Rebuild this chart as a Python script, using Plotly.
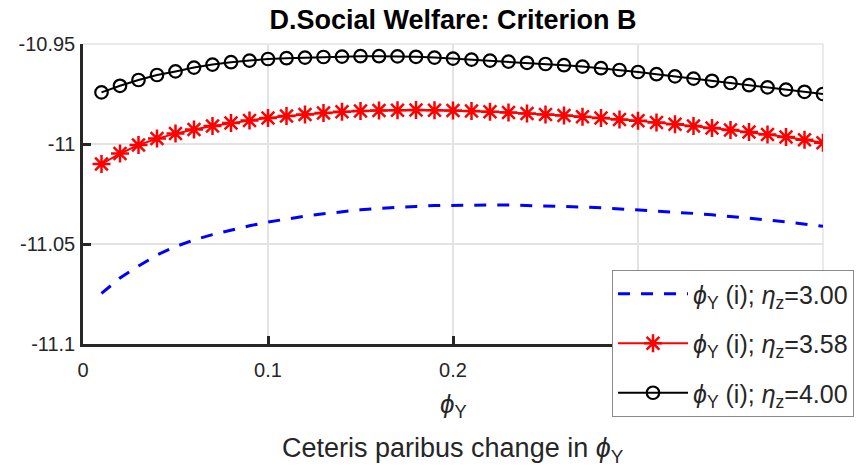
import plotly.graph_objects as go

# phi_Y grid
phi_y = [0.01, 0.02, 0.03, 0.04, 0.05, 0.06, 0.07, 0.08, 0.09, 0.10,
         0.11, 0.12, 0.13, 0.14, 0.15, 0.16, 0.17, 0.18, 0.19, 0.20,
         0.21, 0.22, 0.23, 0.24, 0.25, 0.26, 0.27, 0.28, 0.29, 0.30,
         0.31, 0.32, 0.33, 0.34, 0.35, 0.36, 0.37, 0.38, 0.39, 0.40]

# social welfare for eta_z = 3.00
welfare_eta_300 = [-11.0747, -11.0670, -11.0610, -11.0555, -11.0513, -11.0480, -11.0453, -11.0430, -11.0409, -11.0390,
                   -11.0374, -11.0361, -11.0349, -11.0338, -11.0329, -11.0322, -11.0316, -11.0312, -11.0308, -11.0306,
                   -11.0305, -11.0305, -11.0305, -11.0307, -11.0309, -11.0312, -11.0315, -11.0319, -11.0324, -11.0329,
                   -11.0334, -11.0340, -11.0347, -11.0354, -11.0362, -11.0371, -11.0380, -11.0390, -11.0400, -11.0411]

# social welfare for eta_z = 3.58
welfare_eta_358 = [-11.0100, -11.0048, -11.0005, -10.9973, -10.9948, -10.9927, -10.9910, -10.9895, -10.9882, -10.9870,
                   -10.9860, -10.9852, -10.9845, -10.9839, -10.9835, -10.9833, -10.9831, -10.9830, -10.9831, -10.9833,
                   -10.9835, -10.9839, -10.9843, -10.9847, -10.9852, -10.9858, -10.9864, -10.9870, -10.9877, -10.9884,
                   -10.9893, -10.9901, -10.9910, -10.9920, -10.9930, -10.9940, -10.9953, -10.9965, -10.9979, -10.9994]

# social welfare for eta_z = 4.00
welfare_eta_400 = [-10.9742, -10.9709, -10.9680, -10.9655, -10.9637, -10.9618, -10.9603, -10.9591, -10.9583, -10.9575,
                   -10.9571, -10.9568, -10.9565, -10.9563, -10.9561, -10.9561, -10.9562, -10.9564, -10.9568, -10.9573,
                   -10.9578, -10.9583, -10.9588, -10.9594, -10.9600, -10.9606, -10.9613, -10.9621, -10.9630, -10.9640,
                   -10.9651, -10.9662, -10.9673, -10.9684, -10.9695, -10.9706, -10.9717, -10.9728, -10.9739, -10.9750]

x_ticks = [0, 0.1, 0.2, 0.3, 0.4]
x_tick_labels = ["0", "0.1", "0.2", "0.3", "0.4"]
y_ticks = [-11.1, -11.05, -11.0, -10.95]
y_tick_labels = ["-11.1", "-11.05", "-11", "-10.95"]

FONT = "Liberation Sans, Arial, Helvetica, sans-serif"
AXIS_COLOR = "#262626"
GRID_COLOR = "#e3e3e3"

fig = go.Figure()

fig.add_trace(go.Scatter(
    x=phi_y, y=welfare_eta_300, mode="lines",
    name="<i>ϕ</i><sub>Y</sub> (i); <i>η</i><sub>z</sub>=3.00",
    legendgroup="a",
    line=dict(color="#0000ff", width=3, dash="12px,11px"),
))
fig.add_trace(go.Scatter(
    x=phi_y, y=welfare_eta_358, mode="lines+markers",
    name="<i>ϕ</i><sub>Y</sub> (i); <i>η</i><sub>z</sub>=3.58",
    legendgroup="b",
    line=dict(color="#ff0000", width=2),
    marker=dict(symbol="asterisk-open", size=15, color="#ff0000",
                line=dict(color="#ff0000", width=2.5)),
))
fig.add_trace(go.Scatter(
    x=phi_y, y=welfare_eta_400, mode="lines+markers",
    name="<i>ϕ</i><sub>Y</sub> (i); <i>η</i><sub>z</sub>=4.00",
    legendgroup="c",
    line=dict(color="#000000", width=2),
    marker=dict(symbol="circle-open", size=12.5, color="#000000",
                line=dict(color="#000000", width=2.2)),
))

fig.update_layout(
    width=862, height=468,
    margin=dict(l=83, r=39, t=44, b=124, autoexpand=False),
    paper_bgcolor="white", plot_bgcolor="white",
    font=dict(family=FONT, color=AXIS_COLOR),
    title=dict(text="<b>D.Social Welfare: Criterion B</b>",
               x=0.5, xref="paper", xanchor="center",
               y=1 - 20 / 468, yref="container", yanchor="middle",
               font=dict(family=FONT, size=27, color="#000000")),
    showlegend=True,
    legend=dict(x=(612 - 83) / 740, y=(344 - 270) / 300,
                xanchor="left", yanchor="top",
                bgcolor="white", bordercolor="#8a8a8a", borderwidth=1,
                font=dict(family=FONT, size=25, color=AXIS_COLOR),
                itemwidth=70, tracegroupgap=14, traceorder="grouped"),
)

fig.update_xaxes(
    range=[0, 0.4], tickvals=x_ticks, ticktext=x_tick_labels,
    showgrid=True, gridcolor=GRID_COLOR, gridwidth=1.5, zeroline=False,
    showline=True, linecolor=AXIS_COLOR, linewidth=2.5,
    ticks="inside", ticklen=8, tickwidth=2.5, tickcolor=AXIS_COLOR,
    ticklabelstandoff=6,
    tickfont=dict(family=FONT, size=20, color=AXIS_COLOR),
)
fig.update_yaxes(
    range=[-11.1, -10.95], tickvals=y_ticks, ticktext=y_tick_labels,
    showgrid=True, gridcolor=GRID_COLOR, gridwidth=1.5, zeroline=False,
    showline=True, linecolor=AXIS_COLOR, linewidth=2.5,
    ticks="inside", ticklen=8, tickwidth=2.5, tickcolor=AXIS_COLOR,
    ticklabelstandoff=1,
    tickfont=dict(family=FONT, size=20, color=AXIS_COLOR),
)

# light frame on the top and right sides of the plot area
fig.add_shape(type="line", xref="paper", yref="paper", x0=0, x1=1, y0=1, y1=1,
              line=dict(color=GRID_COLOR, width=1.5), layer="below")
fig.add_shape(type="line", xref="paper", yref="paper", x0=1, x1=1, y0=0, y1=1,
              line=dict(color=GRID_COLOR, width=1.5), layer="below")

# axis label and caption below the x axis
fig.add_annotation(text="<i>ϕ</i><sub>Y</sub>", x=0.5, y=(344 - 405) / 300,
                   xref="paper", yref="paper", showarrow=False,
                   xanchor="center", yanchor="middle",
                   font=dict(family=FONT, size=26, color=AXIS_COLOR))
fig.add_annotation(text="Ceteris paribus change in <i>ϕ</i><sub>Y</sub>",
                   x=0.5, y=(344 - 450) / 300,
                   xref="paper", yref="paper", showarrow=False,
                   xanchor="center", yanchor="middle",
                   font=dict(family=FONT, size=27, color=AXIS_COLOR))

fig.write_html("out.html")
